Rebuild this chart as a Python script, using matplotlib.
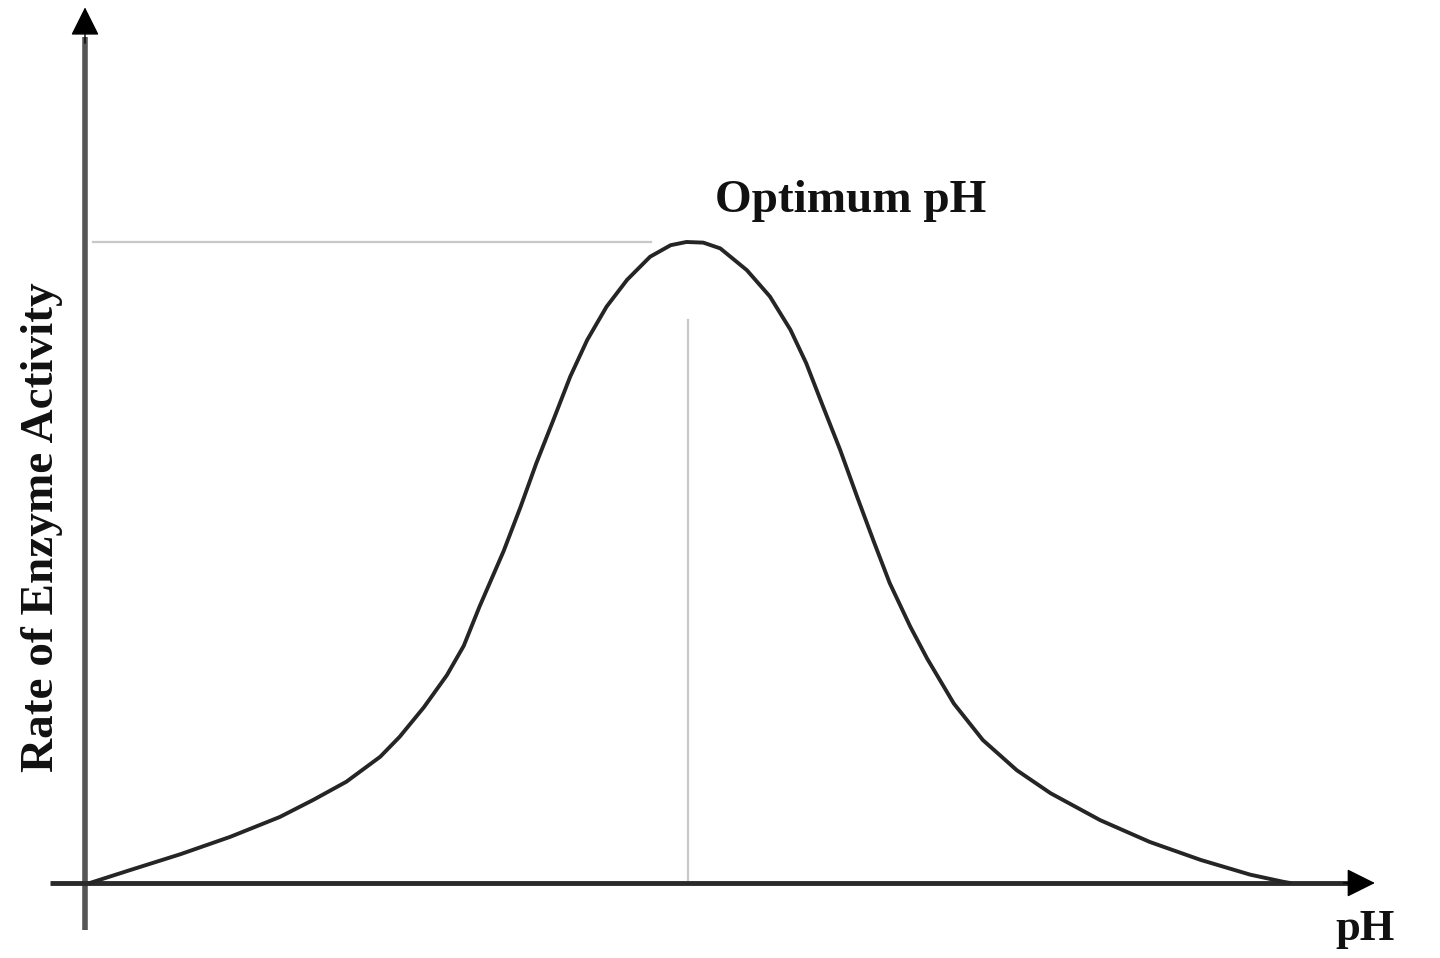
import matplotlib.pyplot as plt

# pH (arbitrary units, optimum at 5) and rate (% of maximum)
ph = [0.04, 0.37, 0.79, 1.20, 1.61, 1.89, 2.16, 2.44, 2.60, 2.80, 2.99, 3.13,
      3.26, 3.46, 3.60, 3.73, 3.87, 4.01, 4.15, 4.31, 4.48, 4.67, 4.84, 4.97,
      5.11, 5.25, 5.47, 5.66, 5.83, 5.96, 6.10, 6.24, 6.38, 6.52, 6.65, 6.82,
      6.96, 7.18, 7.42, 7.70, 7.98, 8.39, 8.80, 9.22, 9.63, 9.90, 9.96]
rate = [0.0, 2.0, 4.5, 7.2, 10.3, 13.0, 15.8, 19.7, 22.8, 27.4, 32.4, 37.0,
        43.1, 51.8, 58.7, 65.5, 72.2, 79.0, 84.7, 89.9, 94.1, 97.7, 99.5, 100.0,
        99.9, 99.0, 95.6, 91.5, 86.3, 81.1, 74.3, 67.6, 60.3, 53.2, 46.8, 40.0,
        35.0, 28.0, 22.3, 17.6, 14.0, 9.8, 6.4, 3.6, 1.3, 0.2, 0.0]

optimum_ph = 5.0
peak_rate = 100.0

fig = plt.figure(figsize=(14.4, 9.58), dpi=100)
ax = fig.add_axes([0, 0, 1, 1])
ax.set_xlim(-0.7025, 11.198)
ax.set_ylim(-11.70, 137.75)
ax.axis('off')

serif = ['Liberation Serif', 'DejaVu Serif']

# guide lines to the optimum
ax.plot([0.07, 4.68], [peak_rate, peak_rate], color='#c8c8c8', lw=1.6, zorder=1)
ax.plot([optimum_ph - 0.02] * 2, [0.5, 87.8], color='#c8c8c8', lw=1.6, zorder=1)

# the activity curve
ax.plot(ph, rate, color='#252525', lw=2.8, solid_joinstyle='round',
        solid_capstyle='round', zorder=3)

# axes with arrows
ax.plot([0, 0], [-7.3, 132], color='#555555', lw=4, solid_capstyle='butt', zorder=2)
ax.annotate('', xy=(0, 136.6), xytext=(0, 131),
            arrowprops=dict(arrowstyle='-|>,head_length=0.4,head_width=0.2',
                            color='black', lw=1, mutation_scale=45,
                            shrinkA=0, shrinkB=0))
ax.plot([-0.29, 10.5], [0, 0], color='#2a2a2a', lw=3.5, solid_capstyle='butt', zorder=2)
ax.annotate('', xy=(10.66, 0), xytext=(10.4, 0),
            arrowprops=dict(arrowstyle='-|>,head_length=0.4,head_width=0.2',
                            color='black', lw=1, mutation_scale=45,
                            shrinkA=0, shrinkB=0))

# labels
ax.text(5.21, 104.6, 'Optimum pH', family=serif, fontweight='bold',
        fontsize=34, ha='left', va='baseline', color='#111111')
ax.text(10.33, -8.9, 'pH', family=serif, fontweight='bold',
        fontsize=32, ha='left', va='baseline', color='#111111')
ax.text(-0.355, 55.5, 'Rate of Enzyme Activity', family=serif, fontweight='bold',
        fontsize=34, rotation=90, ha='center', va='center', color='#111111')

fig.savefig('out.png', dpi=100)
